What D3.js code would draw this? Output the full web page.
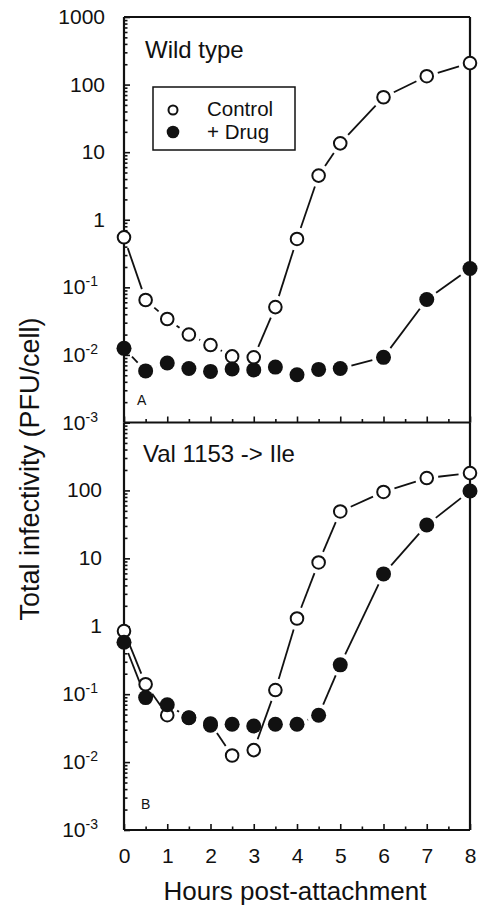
<!DOCTYPE html>
<html>
<head>
<meta charset="utf-8">
<script src="https://cdn.jsdelivr.net/npm/d3@7"></script>
<style>
  body { margin: 0; background: #fff; }
  text { font-family: Arial, "Liberation Sans", Helvetica, sans-serif; fill: #111; }
</style>
</head>
<body>
<div id="chart"></div>
<script>
// hours after attachment, and total infectivity (PFU/cell)
const hours = [0, 0.5, 1, 1.5, 2, 2.5, 3, 3.5, 4, 4.5, 5, 6, 7, 8]
const wtControl  = [0.55, 0.065, 0.034, 0.020, 0.014, 0.0095, 0.0092, 0.051, 0.52, 4.5, 13.5, 65, 133, 208]
const wtDrug     = [0.0125, 0.0058, 0.0076, 0.0063, 0.0057, 0.0062, 0.006, 0.0066, 0.0051, 0.0061, 0.0063, 0.0092, 0.066, 0.19]
const mutControl = [0.85, 0.14, 0.049, 0.045, 0.037, 0.0125, 0.015, 0.115, 1.3, 8.7, 49, 95, 152, 180]
const mutDrug    = [0.58, 0.089, 0.07, 0.045, 0.035, 0.036, 0.034, 0.036, 0.036, 0.049, 0.27, 5.9, 31, 98]

const xTicks = [0, 1, 2, 3, 4, 5, 6, 7, 8]
const xMinor = [0.5, 1.5, 2.5, 3.5, 4.5, 5.5, 6.5, 7.5]
const topYTicks = [1000, 100, 10, 1, 0.1, 0.01, 0.001]
const bottomYTicks = [100, 10, 1, 0.1, 0.01, 0.001]
const seriesNames = ["Control", "+ Drug"]
const panelTitles = ["Wild type", "Val 1153 -> Ile"]
const panelLetters = ["A", "B"]

const W = 480, H = 905
const left = 124, right = 470

const svg = d3.select("#chart").append("svg")
    .attr("width", W)
    .attr("height", H)

const x = d3.scaleLinear().domain([0, 8]).range([left, right])

const panels = [
  { top: 17, bottom: 422.5, control: wtControl, drug: wtDrug, yTicks: topYTicks, labelX: 105 },
  { top: 422.5, bottom: 830, control: mutControl, drug: mutDrug, yTicks: bottomYTicks, labelX: 102 }
]

// minor ticks 2..9 within each decade
const minorY = []
for (let e = -3; e < 3; e++) {
  for (let m = 2; m <= 9; m++) minorY.push(m * Math.pow(10, e))
}

const rOpen = 6.3, rFill = 7.5, gap = 11.5

function segments(vals, y) {
  const pts = hours.map((h, i) => [x(h), y(vals[i])])
  const segs = []
  for (let i = 0; i < pts.length - 1; i++) {
    const [x1, y1] = pts[i], [x2, y2] = pts[i + 1]
    const d = Math.hypot(x2 - x1, y2 - y1)
    if (d <= 2 * gap) continue
    const ux = (x2 - x1) / d, uy = (y2 - y1) / d
    segs.push({ x1: x1 + ux * gap, y1: y1 + uy * gap, x2: x2 - ux * gap, y2: y2 - uy * gap })
  }
  return segs
}

panels.forEach(function(p, pi) {
  const y = d3.scaleLog().domain([0.001, 1000]).range([p.bottom, p.top])
  const g = svg.append("g")

  // y ticks (inward)
  g.append("g")
    .attr("transform", "translate(" + left + ",0)")
    .call(d3.axisLeft(y).tickValues(topYTicks).tickSize(-6).tickFormat(""))
    .select(".domain").remove()
  g.append("g")
    .attr("transform", "translate(" + left + ",0)")
    .call(d3.axisLeft(y).tickValues(minorY).tickSize(-3.5).tickFormat(""))
    .select(".domain").remove()

  // x ticks (inward)
  const xa = g.append("g")
    .attr("transform", "translate(0," + p.bottom + ")")
    .call(d3.axisBottom(x).tickValues(xTicks).tickSize(-6).tickPadding(18)
      .tickFormat(pi === 1 ? d3.format("d") : ""))
  xa.select(".domain").remove()
  xa.selectAll("text").style("font-size", "21px").attr("fill", "#111")
    .style("font-family", "Arial, 'Liberation Sans', sans-serif")
  g.append("g")
    .attr("transform", "translate(0," + p.bottom + ")")
    .call(d3.axisBottom(x).tickValues(xMinor).tickSize(-3.5).tickFormat(""))
    .select(".domain").remove()

  g.selectAll(".tick line").attr("stroke", "#111").attr("stroke-width", 1.6)

  // y labels
  const lab = g.selectAll(".ylab")
    .data(p.yTicks)
    .enter()
    .append("text")
      .attr("class", "ylab")
      .attr("text-anchor", "end")
      .attr("y", d => y(d) + 7)
      .style("font-size", "21px")
  lab.each(function(d) {
    const t = d3.select(this)
    if (d >= 1) {
      t.attr("x", p.labelX).text(d3.format("d")(d))
    } else {
      t.attr("x", 98)
      t.append("tspan").text("10")
      t.append("tspan").attr("dy", "-8").style("font-size", "14px").text(Math.round(Math.log10(d)))
    }
  })

  // frame
  g.append("line").attr("x1", left).attr("x2", left).attr("y1", p.top).attr("y2", p.bottom)
  g.append("line").attr("x1", right).attr("x2", right).attr("y1", p.top).attr("y2", p.bottom)
  g.append("line").attr("x1", left).attr("x2", right).attr("y1", p.bottom).attr("y2", p.bottom)
  if (pi === 0) g.append("line").attr("x1", left).attr("x2", right).attr("y1", p.top).attr("y2", p.top)
  g.selectAll(":scope > line").attr("stroke", "#111").attr("stroke-width", 2.2)

  // connecting lines with gaps around the symbols
  ;[p.control, p.drug].forEach(function(vals) {
    g.selectAll(null)
      .data(segments(vals, y))
      .enter()
      .append("line")
        .attr("x1", d => d.x1).attr("y1", d => d.y1)
        .attr("x2", d => d.x2).attr("y2", d => d.y2)
        .attr("stroke", "#111")
        .attr("stroke-width", 1.8)
  })

  g.selectAll(null)
    .data(hours)
    .enter()
    .append("circle")
      .attr("cx", d => x(d))
      .attr("cy", (d, i) => y(p.control[i]))
      .attr("r", rOpen)
      .attr("fill", "#fff")
      .attr("stroke", "#111")
      .attr("stroke-width", 2)

  g.selectAll(null)
    .data(hours)
    .enter()
    .append("circle")
      .attr("cx", d => x(d))
      .attr("cy", (d, i) => y(p.drug[i]))
      .attr("r", rFill)
      .attr("fill", "#111")

  g.append("text")
    .attr("x", pi === 0 ? 145 : 143)
    .attr("y", pi === 0 ? 58 : 462)
    .style("font-size", "24px")
    .text(panelTitles[pi])

  g.append("text")
    .attr("x", pi === 0 ? 137 : 141)
    .attr("y", pi === 0 ? 405 : 809)
    .style("font-size", "14px")
    .text(panelLetters[pi])
})

// legend
const lg = svg.append("g")
lg.append("rect")
  .attr("x", 153).attr("y", 87)
  .attr("width", 142).attr("height", 63)
  .attr("fill", "#fff")
  .attr("stroke", "#111")
  .attr("stroke-width", 1.5)
lg.append("circle").attr("cx", 173).attr("cy", 110).attr("r", 4.5)
  .attr("fill", "#fff").attr("stroke", "#111").attr("stroke-width", 2)
lg.append("circle").attr("cx", 173).attr("cy", 132).attr("r", 6.3).attr("fill", "#111")
lg.selectAll("text.leg")
  .data(seriesNames)
  .enter()
  .append("text")
    .attr("x", 207)
    .attr("y", (d, i) => 116 + i * 23)
    .style("font-size", "20.5px")
    .text(d => d)

// axis titles
svg.append("text")
  .attr("transform", "translate(39,469) rotate(-90)")
  .attr("text-anchor", "middle")
  .style("font-size", "27px")
  .text("Total infectivity (PFU/cell)")

svg.append("text")
  .attr("x", 295)
  .attr("y", 900)
  .attr("text-anchor", "middle")
  .style("font-size", "26px")
  .text("Hours post-attachment")
</script>
</body>
</html>
